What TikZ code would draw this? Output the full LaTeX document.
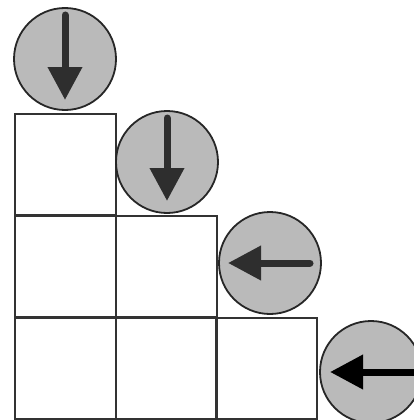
\documentclass[tikz,border=0pt]{standalone}
\usetikzlibrary{arrows.meta,calc}
\begin{document}
\begin{tikzpicture}[x=1pt,y=-1pt,
  cell/.style={draw=black!80, line width=2pt, minimum size=101pt, inner sep=0pt, outer sep=0pt},
  ball/.style={circle, draw=black!85, fill=black!27, line width=1.8pt, minimum size=102pt, inner sep=0pt},
  push/.style={line width=7pt, draw=black!82, line cap=round, -{Triangle[length=33pt,width=33pt]}}]
\useasboundingbox (0,0) rectangle (413,420);
% squares
\node[cell] (c11) at (65,164) {};
\node[cell] (c21) at (65,266) {};
\node[cell] (c22) at (166,266) {};
\node[cell] (c31) at (65,368) {};
\node[cell] (c32) at (166,368) {};
\node[cell] (c33) at (266,368) {};
% balls
\node[ball] (b1) at (65,59) {};
\node[ball] (b2) at (167,162) {};
\node[ball] (b3) at (270,263) {};
\node[ball] (b4) at (371,372) {};
% arrows
\draw[push] ($(b1.center)+(0,-44)$) -- ($(b1.center)+(0,41)$);
\draw[push] ($(b2.center)+(0,-44)$) -- ($(b2.center)+(0,39)$);
\draw[push] ($(b3.center)+(40,0)$) -- ($(b3.center)+(-42,0)$);
\draw[push, draw=black] ($(b4.center)+(46,0)$) -- ($(b4.center)+(-41,0)$);
\end{tikzpicture}
\end{document}
